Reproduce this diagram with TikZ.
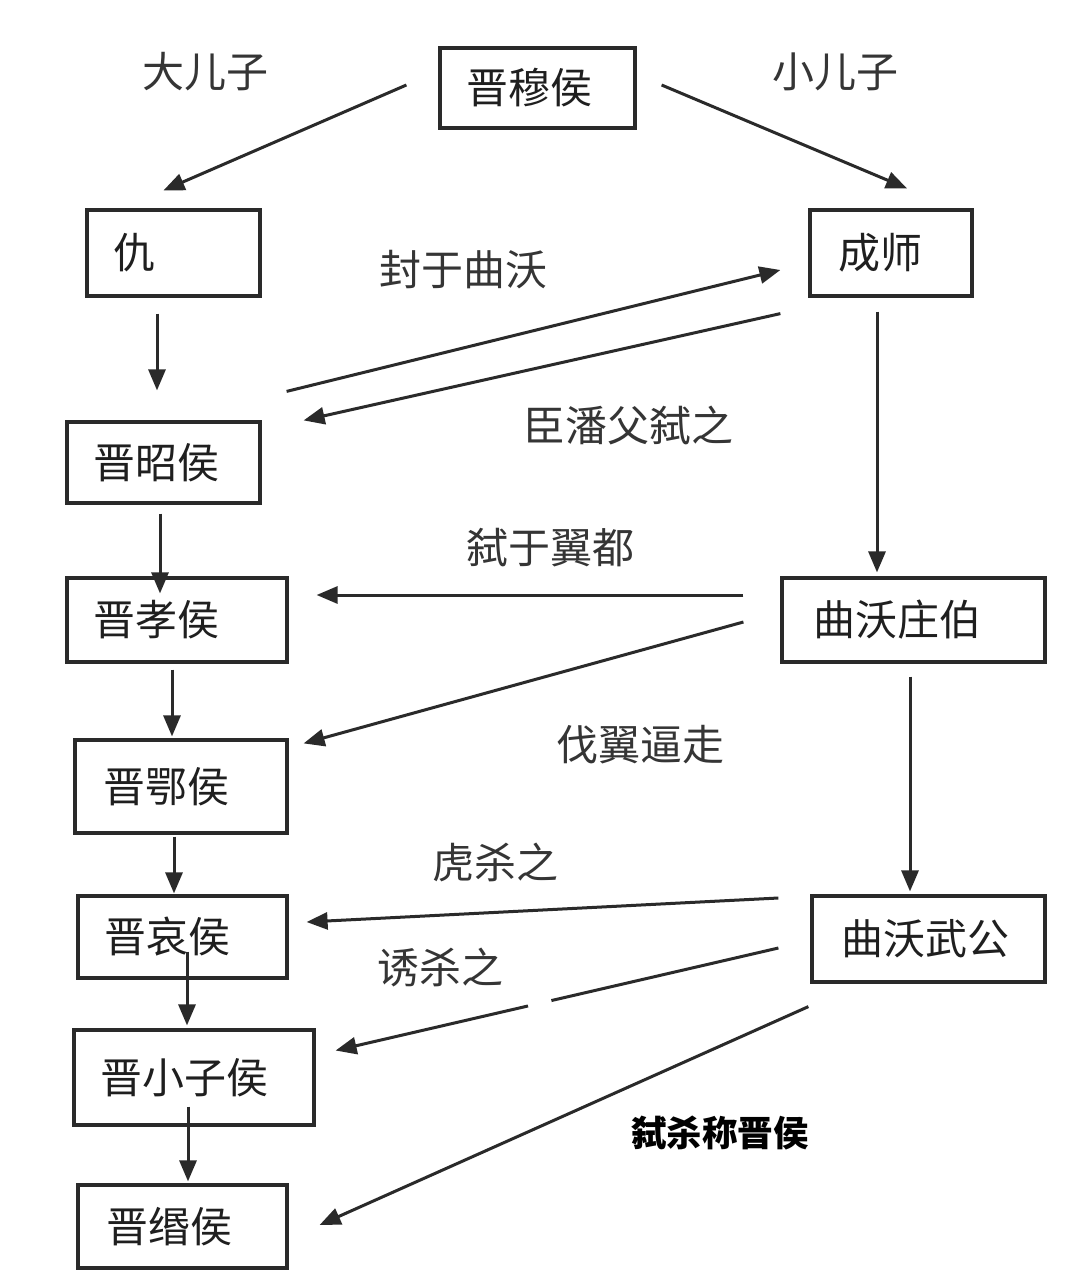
\documentclass[tikz,border=0pt]{standalone}
\usepackage{fontspec}
\setmainfont{Noto Sans CJK SC}
\usetikzlibrary{arrows.meta,calc}
\definecolor{ink}{HTML}{1F1F1F}
\definecolor{linec}{HTML}{2A2A2A}
\tikzset{
  bx/.style n args={3}{draw=linec, line width=3.2pt, fill=white, inner xsep=0pt, inner ysep=0pt,
     text width=#1pt-2*#3pt, minimum width=#1pt, minimum height=#2pt, align=left,
     font=\fontsize{42}{46}\selectfont, text=ink},
  lbl/.style={font=\fontsize{42}{46}\selectfont, text=ink!90!white, inner sep=0pt},
  arr/.style={draw=linec, line width=3pt, -{Triangle[length=21pt,width=17pt]}},
}
\begin{document}
\begin{tikzpicture}[x=1pt,y=-1pt]
\useasboundingbox (0,0) rectangle (1088,1280);
\fill[white] (0,0) rectangle (1088,1280);
% boxes
\node[bx={195}{80}{26}]  (mu)   at (537.5,88)   {晋穆侯};
\node[bx={173}{86}{26}]  (qiu)  at (173.5,253)  {仇};
\node[bx={162}{86}{28}]  (cs)   at (891,253)    {成师};
\node[bx={193}{81}{26}]  (zhao) at (163.5,462.5){晋昭侯};
\node[bx={220}{84}{26}]  (xiao) at (177,620)    {晋孝侯};
\node[bx={263}{84}{31}]  (zb)   at (913.5,620)  {曲沃庄伯};
\node[bx={212}{93}{28}]  (e)    at (181,786.5)  {晋鄂侯};
\node[bx={209}{82}{26}]  (ai)   at (182.5,937)  {晋哀侯};
\node[bx={233}{86}{29}]  (wg)   at (928.5,939)  {曲沃武公};
\node[bx={240}{95}{26}]  (xzh)  at (194,1077.5) {晋小子侯};
\node[bx={209}{83}{28}]  (min)  at (182.5,1226.5){晋缗侯};
% labels
\node[lbl] (l1) at (205,72)  {大儿子};
\node[lbl] (l2) at (835,72)  {小儿子};
\node[lbl] (l3) at (463,270) {封于曲沃};
\node[lbl] (l4) at (628,425) {臣潘父弑之};
\node[lbl] (l5) at (550,548) {弑于翼都};
\node[lbl] (l6) at (640,745) {伐翼逼走};
\node[lbl] (l7) at (495,862) {虎杀之};
\node[lbl] (l8) at (440,968) {诱杀之};
\node[font=\fontsize{35.5}{40}\selectfont\bfseries, text=black, inner sep=0pt] (l9) at (720,1133) {弑杀称晋侯};
% connectors
\draw[arr] ($(mu.west)+(-32,-3)$) -- ($(qiu.north)+(-10,-18)$);
\draw[arr] ($(mu.east)+(25,-3)$) -- ($(cs.north)+(16,-20)$);
\draw[arr] ($(qiu.south)+(-16.5,16)$) -- ($(zhao.north)+(-6.5,-30)$);
\draw[arr] ($(cs.south)+(-14,14)$) -- ($(zb.north)+(-36.5,-4)$);
\draw[arr] ($(zhao.south)+(-3.5,9)$) -- ($(xiao.north)+(-17,17)$);
\draw[arr] ($(xiao.south)+(-5,6)$) -- ($(e.north)+(-9,-2)$);
\draw[arr] ($(zb.south)+(-3.5,13)$) -- ($(wg.north)+(-18.5,-3)$);
\draw[arr] ($(e.south)+(-7,2)$) -- ($(ai.north)+(-8.5,-1)$);
\draw[arr] ($(ai.south)+(4.5,-28)$) -- ($(xzh.north)+(-7,-3)$);
\draw[arr] ($(xzh.south)+(-6,-20)$) -- ($(min.north)+(5.5,-2)$);
\draw[arr] ($(zhao.north east)+(25,-29)$) -- ($(cs.west)+(-28,17)$);
\draw[arr] ($(cs.south west)+(-28,16)$) -- ($(zhao.north east)+(42,0)$);
\draw[arr] ($(zb.west)+(-37,-25)$) -- ($(xiao.east)+(28,-25)$);
\draw[arr] ($(zb.west)+(-37,2)$) -- ($(e.north east)+(15,5)$);
\draw[arr] ($(wg.west)+(-32,-41)$) -- ($(ai.east)+(18,-15)$);
\draw[arr, dash pattern=on 233pt off 24pt on 400pt] ($(wg.west)+(-32,9)$) -- ($(xzh.east)+(20,-27)$);
\draw[arr] ($(wg.south west)+(-2,23)$) -- ($(min.east)+(31,-1.5)$);
\end{tikzpicture}
\end{document}
